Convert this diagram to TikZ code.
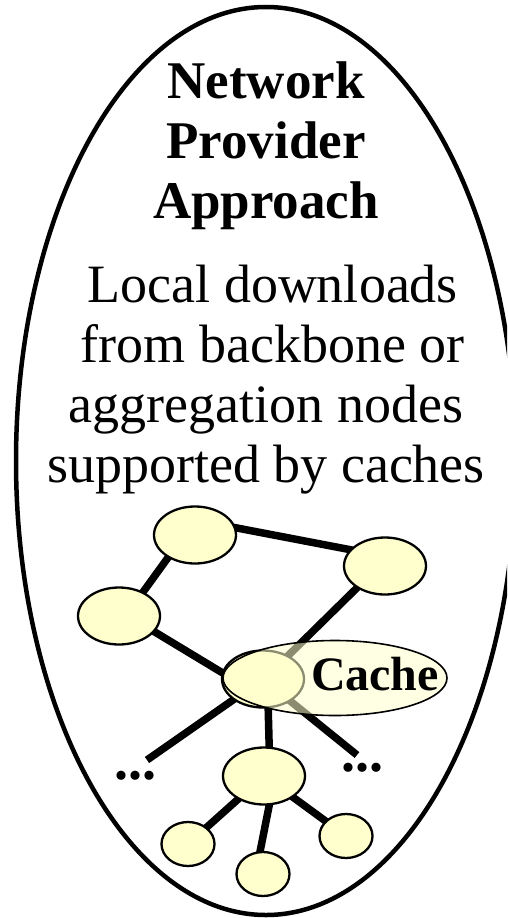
\documentclass[tikz,border=0pt]{standalone}
\usepackage{fontspec}
\setmainfont{Liberation Serif}
\usetikzlibrary{shapes.geometric, backgrounds}
\definecolor{nodefill}{HTML}{FFFFCE}

\begin{document}
\begin{tikzpicture}[
        x=1pt,
        y=-1pt,
        every node/.style={inner sep=0pt},
        router/.style={ellipse, draw, line width=2.3pt, fill=nodefill, minimum width=82pt, minimum height=57pt},
        leaf/.style={router, minimum width=53pt, minimum height=44pt},
        link/.style={line width=7.5pt, shorten <=-4pt, shorten >=-4pt},
        cachebox/.style={ellipse, draw, line width=1.6pt, fill=nodefill, fill opacity=0.55, draw opacity=1, minimum width=224pt, minimum height=75pt},
        heading/.style={font=\bfseries\fontsize{53}{60}\selectfont, align=center, anchor=north},
        body/.style={font=\fontsize{54}{60}\selectfont, align=center, anchor=north},
        more/.style={font=\bfseries\fontsize{56}{56}\selectfont}
    ]
    \useasboundingbox (0,0) rectangle (507,918);
    \clip (0,0) rectangle (507,918);
    \draw[line width=4.5pt] (266,461) ellipse [x radius=250, y radius=454];

    \node[heading] (title) at (266,62) {Network\\Provider\\Approach};
    \node[body] (desc) at (266,265) {\hspace*{.25em}Local downloads\\\hspace*{.25em}from backbone or\\aggregation nodes\\supported by caches};

    \node[router] (core1) at (195,535) {};
    \node[router] (core2) at (385,566) {};
    \node[router] (agg) at (119,616) {};
    \node[router] (hub) at (263,679) {};
    \node[router] (sub) at (264,776) {};
    \node[leaf] (leaf1) at (188,844) {};
    \node[leaf] (leaf2) at (263,874) {};
    \node[leaf] (leaf3) at (346,836) {};
    \node[more] (ldots) at (135,776) {...};
    \node[more] (rdots) at (362,768) {...};
    \coordinate (lend) at (147,760);
    \coordinate (rend) at (357,755);

    \begin{scope}[on background layer]
        \draw[link] (core1.10) -- (core2.155);
        \draw[link] (core1.220) -- (agg.45);
        \draw[link] (agg.336) -- (hub.171);
        \draw[link] (core2.218) -- (hub.43);
        \draw[link, shorten >=0pt] (hub.center) -- (lend);
        \draw[link, shorten >=0pt] (hub.center) -- (rend);
        \draw[link] (hub.-80) -- (sub.80);
        \draw[link] (sub.center) -- (leaf1.center);
        \draw[link] (sub.-80) -- (leaf2.97);
        \draw[link] (sub.center) -- (leaf3.center);
    \end{scope}

    \node[cachebox] (cache) at (335,678) {};
    \node[font=\bfseries\fontsize{48}{48}\selectfont, anchor=base] (cachelabel) at (375,690) {Cache};
\end{tikzpicture}
\end{document}
